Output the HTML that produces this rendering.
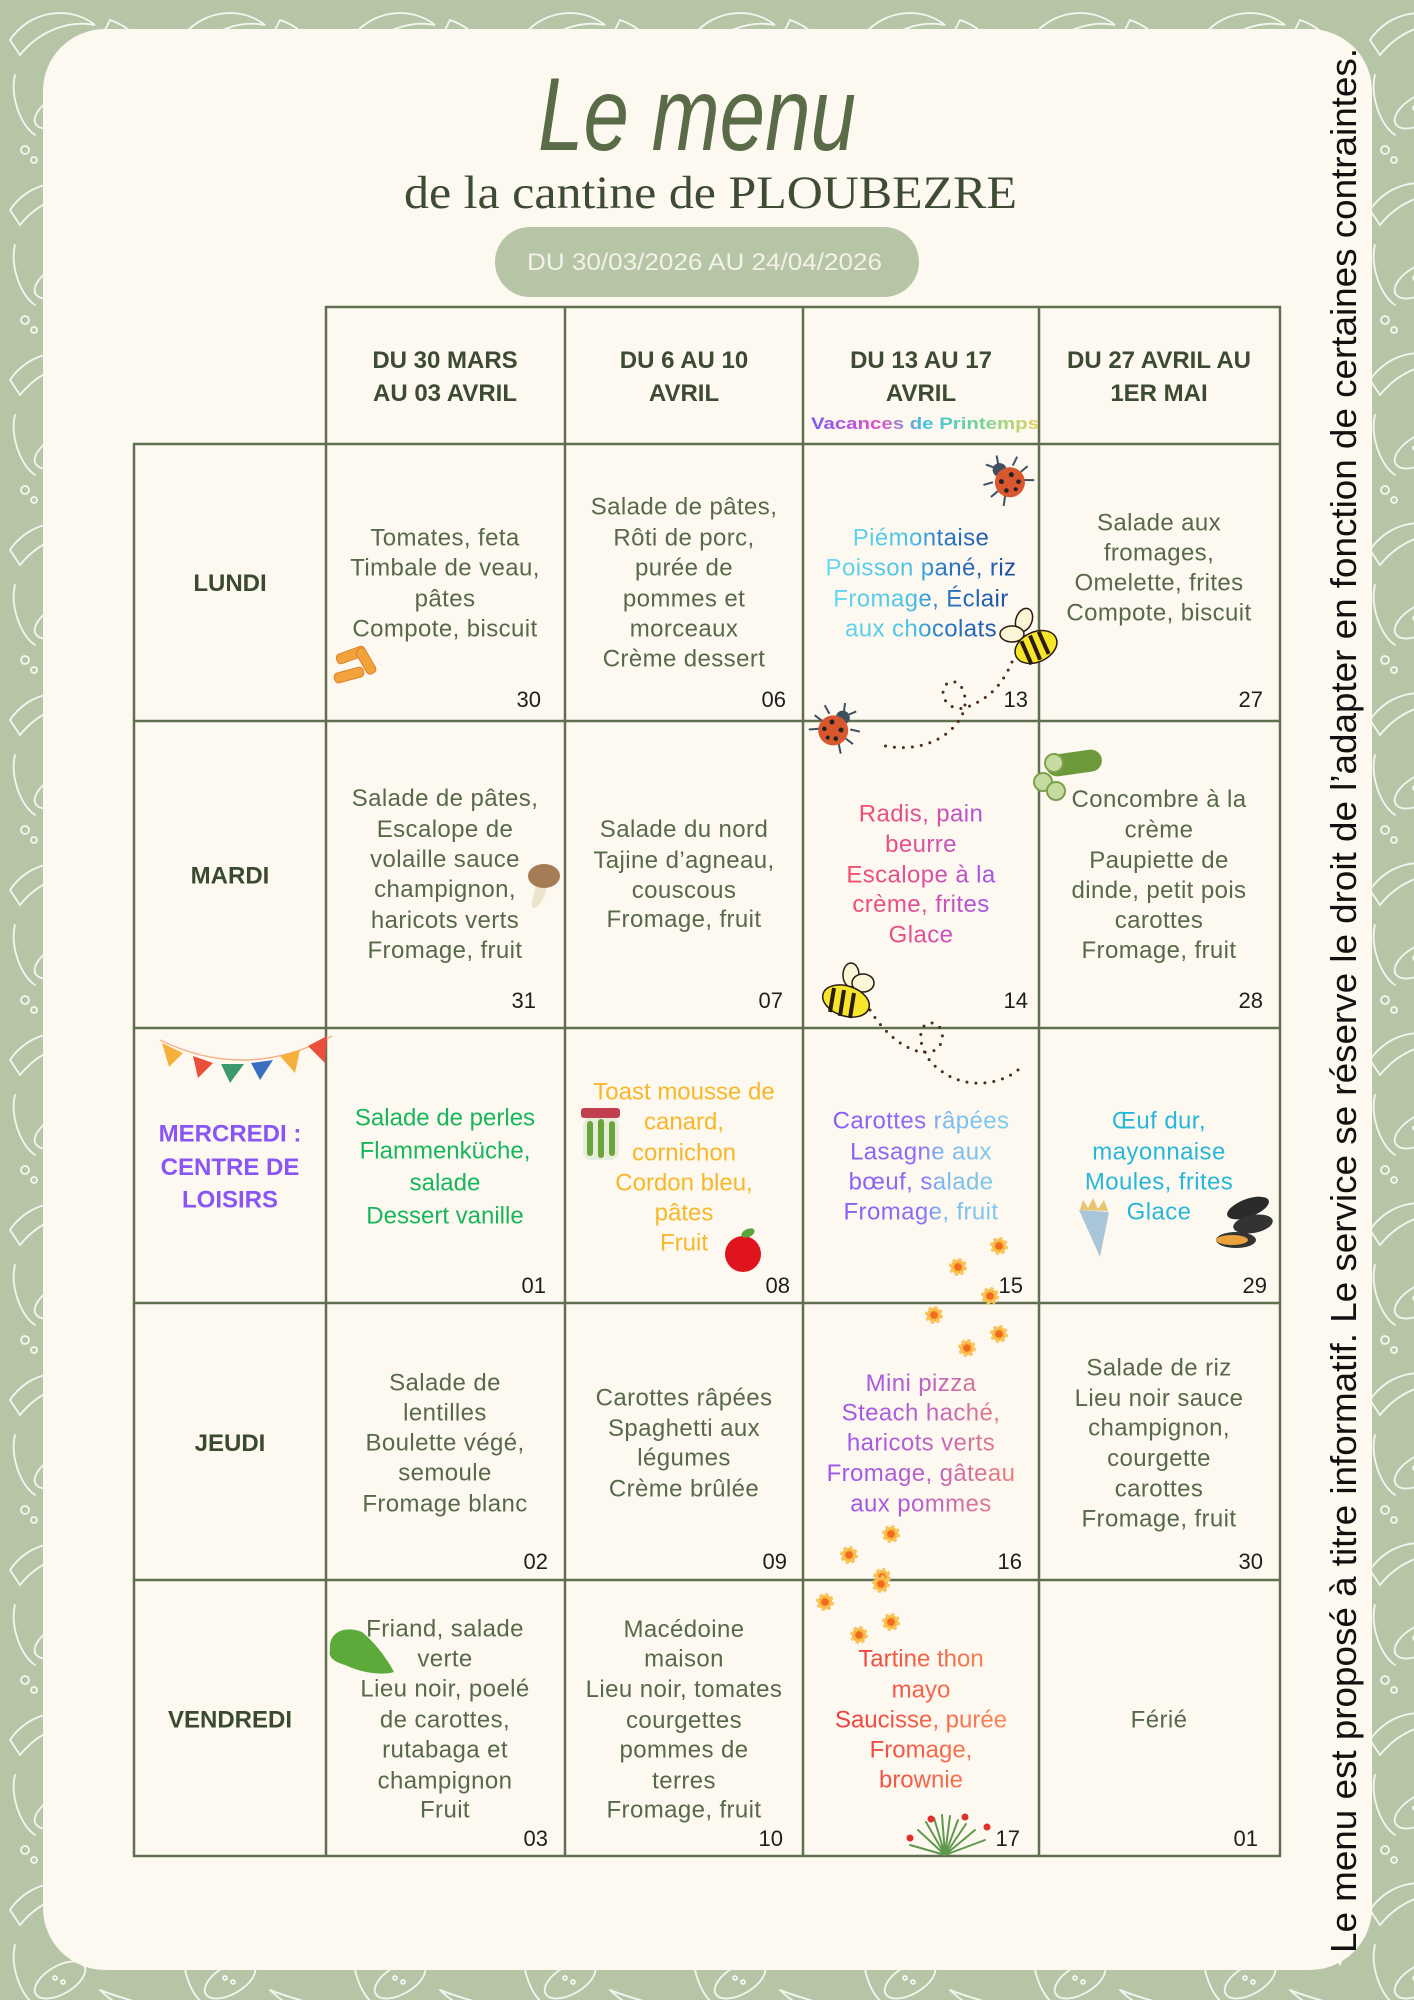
<!DOCTYPE html>
<html><head><meta charset="utf-8">
<style>
html,body{margin:0;padding:0;background:#b6c5a6;}
svg{display:block;}
.t{font-family:"Liberation Sans",sans-serif;font-size:24px;letter-spacing:0.4px;fill:#58694a;text-anchor:middle;}
.n{font-family:"Liberation Sans",sans-serif;font-size:22px;fill:#1e1e1e;text-anchor:end;}
.h{font-family:"Liberation Sans",sans-serif;font-weight:bold;font-size:24px;fill:#3c4b31;text-anchor:middle;}
.d{font-family:"Liberation Sans",sans-serif;font-weight:bold;font-size:24px;fill:#3a4a2f;text-anchor:middle;}
</style></head><body>
<svg width="1414" height="2000" viewBox="0 0 1414 2000" xmlns="http://www.w3.org/2000/svg">
<defs>
<pattern id="bg" width="170" height="170" patternUnits="userSpaceOnUse">
 <g fill="none" stroke="#ffffff" stroke-width="1.8" stroke-linecap="round" opacity="0.85">
  <path d="M10 40 C30 10 70 5 95 25 C70 20 40 30 20 55 Z"/>
  <path d="M110 20 C140 30 160 60 150 95 C145 70 130 45 105 30 Z"/>
  <ellipse cx="60" cy="110" rx="28" ry="14" transform="rotate(-30 60 110)"/>
  <circle cx="55" cy="108" r="2"/><circle cx="63" cy="112" r="2"/>
  <path d="M100 120 C120 140 150 150 165 140 M100 120 C125 130 150 135 165 140"/>
  <circle cx="140" cy="60" r="4"/><circle cx="150" cy="70" r="3"/>
  <circle cx="25" cy="150" r="4"/><circle cx="34" cy="160" r="3"/>
  <path d="M15 75 C10 95 20 125 35 135"/>
 </g>
</pattern>
<linearGradient id="rb" gradientUnits="userSpaceOnUse" x1="811" y1="0" x2="1039" y2="0">
 <stop offset="0" stop-color="#7b5cf6"/><stop offset="0.3" stop-color="#e052c8"/><stop offset="0.5" stop-color="#3cc6e0"/><stop offset="0.78" stop-color="#7ed68a"/><stop offset="1" stop-color="#e8d060"/>
</linearGradient>
<linearGradient id="gL" gradientUnits="userSpaceOnUse" x1="830" y1="0" x2="1012" y2="0">
 <stop offset="0" stop-color="#66d8ef"/><stop offset="0.45" stop-color="#4cc2e4"/><stop offset="0.6" stop-color="#2b7cc9"/><stop offset="1" stop-color="#1e4f9f"/>
</linearGradient>
<linearGradient id="gM" gradientUnits="userSpaceOnUse" x1="850" y1="0" x2="995" y2="0">
 <stop offset="0" stop-color="#f2506a"/><stop offset="0.5" stop-color="#e0509a"/><stop offset="1" stop-color="#a055f0"/>
</linearGradient>
<linearGradient id="gW" gradientUnits="userSpaceOnUse" x1="835" y1="0" x2="1010" y2="0">
 <stop offset="0" stop-color="#8b5cf6"/><stop offset="0.5" stop-color="#8e6ef4"/><stop offset="0.6" stop-color="#7cb8ee"/><stop offset="1" stop-color="#7cd0ee"/>
</linearGradient>
<linearGradient id="gJ" gradientUnits="userSpaceOnUse" x1="835" y1="0" x2="1010" y2="0">
 <stop offset="0" stop-color="#9b55f2"/><stop offset="0.45" stop-color="#b560d0"/><stop offset="1" stop-color="#ea7f7a"/>
</linearGradient>
<linearGradient id="gV" gradientUnits="userSpaceOnUse" x1="835" y1="0" x2="1010" y2="0">
 <stop offset="0" stop-color="#ef3b3b"/><stop offset="1" stop-color="#fa8a58"/>
</linearGradient>
<g id="fl">
 <circle r="7" fill="#f9b640" stroke="#f9c45a" stroke-width="4" stroke-dasharray="3 2.5"/>
 <circle r="3.8" fill="#f06b1d"/>
</g>
</defs>

<rect width="1414" height="2000" fill="#b6c5a6"/>
<rect width="1414" height="2000" fill="url(#bg)"/>
<rect x="43" y="29" width="1329" height="1941" rx="62" fill="#fdf8f0"/>

<!-- Title -->
<text x="538" y="150" font-family="Liberation Sans, sans-serif" font-style="italic" font-size="104" fill="#5a6b48" textLength="318" lengthAdjust="spacingAndGlyphs">Le menu</text>
<text x="404" y="208" font-family="Liberation Serif, serif" font-size="47" fill="#3e4c34" textLength="613" lengthAdjust="spacingAndGlyphs">de la cantine de PLOUBEZRE</text>
<rect x="495" y="227" width="424" height="70" rx="35" fill="#b6c5a6"/>
<text x="527" y="270" font-family="Liberation Sans, sans-serif" font-size="24" fill="#f4f2e8" textLength="355" lengthAdjust="spacingAndGlyphs">DU 30/03/2026 AU 24/04/2026</text>

<!-- vertical note -->
<text transform="translate(1356,1953) rotate(-90)" font-family="Liberation Sans, sans-serif" font-size="36" fill="#111111" textLength="1905" lengthAdjust="spacingAndGlyphs">Le menu est proposé à titre informatif. Le service se réserve le droit de l’adapter en fonction de certaines contraintes.</text>

<!-- table lines -->
<g stroke="#5f6f50" stroke-width="2.5" fill="none">
 <line x1="134" y1="444" x2="134" y2="1857"/>
 <line x1="326" y1="306" x2="326" y2="1857"/>
 <line x1="565" y1="306" x2="565" y2="1857"/>
 <line x1="803" y1="306" x2="803" y2="1857"/>
 <line x1="1039" y1="306" x2="1039" y2="1857"/>
 <line x1="1280" y1="306" x2="1280" y2="1857"/>
 <line x1="325" y1="307" x2="1281" y2="307"/>
 <line x1="133" y1="444" x2="1281" y2="444"/>
 <line x1="133" y1="721" x2="1281" y2="721"/>
 <line x1="133" y1="1028" x2="1281" y2="1028"/>
 <line x1="133" y1="1303" x2="1281" y2="1303"/>
 <line x1="133" y1="1580" x2="1281" y2="1580"/>
 <line x1="133" y1="1856" x2="1281" y2="1856"/>
</g>

<!-- header -->
<text class="h" x="445" y="368">DU 30 MARS</text><text class="h" x="445" y="401">AU 03 AVRIL</text>
<text class="h" x="684" y="368">DU 6 AU 10</text><text class="h" x="684" y="401">AVRIL</text>
<text class="h" x="921" y="368">DU 13 AU 17</text><text class="h" x="921" y="401">AVRIL</text>
<text class="h" x="1159" y="368">DU 27 AVRIL AU</text><text class="h" x="1159" y="401">1ER MAI</text>
<text x="811" y="429" font-family="Liberation Sans, sans-serif" font-weight="bold" font-size="17" fill="url(#rb)" textLength="228" lengthAdjust="spacingAndGlyphs">Vacances de Printemps</text>

<!-- day labels -->
<text class="d" x="230" y="591">LUNDI</text>
<text class="d" x="230" y="883.5">MARDI</text>
<text class="d" x="230" y="1141.5" style="fill:#8a55f5">MERCREDI :</text>
<text class="d" x="230" y="1175" style="fill:#8a55f5">CENTRE DE</text>
<text class="d" x="230" y="1207.5" style="fill:#8a55f5">LOISIRS</text>
<text class="d" x="230" y="1451">JEUDI</text>
<text class="d" x="230" y="1727.5">VENDREDI</text>

<!-- LUNDI -->
<text class="t" x="445" y="545.5">Tomates, feta</text>
<text class="t" x="445" y="575.5">Timbale de veau,</text>
<text class="t" x="445" y="606.5">pâtes</text>
<text class="t" x="445" y="636.5">Compote, biscuit</text>

<text class="t" x="684" y="514.5">Salade de pâtes,</text>
<text class="t" x="684" y="545.5">Rôti de porc,</text>
<text class="t" x="684" y="575.5">purée de</text>
<text class="t" x="684" y="606.5">pommes et</text>
<text class="t" x="684" y="636.5">morceaux</text>
<text class="t" x="684" y="666.5">Crème dessert</text>

<text class="t" x="921" y="545.5" style="fill:url(#gL)">Piémontaise</text>
<text class="t" x="921" y="575.5" style="fill:url(#gL)">Poisson pané, riz</text>
<text class="t" x="921" y="606.5" style="fill:url(#gL)">Fromage, Éclair</text>
<text class="t" x="921" y="636.5" style="fill:url(#gL)">aux chocolats</text>

<text class="t" x="1159" y="530.5">Salade aux</text>
<text class="t" x="1159" y="560.5">fromages,</text>
<text class="t" x="1159" y="590.5">Omelette, frites</text>
<text class="t" x="1159" y="620.5">Compote, biscuit</text>

<!-- MARDI -->
<text class="t" x="445" y="806">Salade de pâtes,</text>
<text class="t" x="445" y="837">Escalope de</text>
<text class="t" x="445" y="867">volaille sauce</text>
<text class="t" x="445" y="897">champignon,</text>
<text class="t" x="445" y="928">haricots verts</text>
<text class="t" x="445" y="958">Fromage, fruit</text>

<text class="t" x="684" y="837">Salade du nord</text>
<text class="t" x="684" y="868">Tajine d’agneau,</text>
<text class="t" x="684" y="898">couscous</text>
<text class="t" x="684" y="927">Fromage, fruit</text>

<text class="t" x="921" y="821.5" style="fill:url(#gM)">Radis, pain</text>
<text class="t" x="921" y="852" style="fill:url(#gM)">beurre</text>
<text class="t" x="921" y="882.5" style="fill:url(#gM)">Escalope à la</text>
<text class="t" x="921" y="912" style="fill:url(#gM)">crème, frites</text>
<text class="t" x="921" y="942.5" style="fill:url(#gM)">Glace</text>

<text class="t" x="1159" y="807">Concombre à la</text>
<text class="t" x="1159" y="837.5">crème</text>
<text class="t" x="1159" y="868">Paupiette de</text>
<text class="t" x="1159" y="898">dinde, petit pois</text>
<text class="t" x="1159" y="928">carottes</text>
<text class="t" x="1159" y="958">Fromage, fruit</text>

<!-- MERCREDI -->
<text class="t" x="445" y="1125.5" style="fill:#17b65c;letter-spacing:0">Salade de perles</text>
<text class="t" x="445" y="1158.5" style="fill:#17b65c;letter-spacing:0">Flammenküche,</text>
<text class="t" x="445" y="1190.5" style="fill:#17b65c;letter-spacing:0">salade</text>
<text class="t" x="445" y="1223.5" style="fill:#17b65c;letter-spacing:0">Dessert vanille</text>

<text class="t" x="684" y="1099.5" style="fill:#f7b72a;letter-spacing:0">Toast mousse de</text>
<text class="t" x="684" y="1129.5" style="fill:#f7b72a;letter-spacing:0">canard,</text>
<text class="t" x="684" y="1160.5" style="fill:#f7b72a;letter-spacing:0">cornichon</text>
<text class="t" x="684" y="1190.5" style="fill:#f7b72a;letter-spacing:0">Cordon bleu,</text>
<text class="t" x="684" y="1220.5" style="fill:#f7b72a;letter-spacing:0">pâtes</text>
<text class="t" x="684" y="1250.5" style="fill:#f7b72a;letter-spacing:0">Fruit</text>

<text class="t" x="921" y="1128.5" style="fill:url(#gW)">Carottes râpées</text>
<text class="t" x="921" y="1159.5" style="fill:url(#gW)">Lasagne aux</text>
<text class="t" x="921" y="1189.5" style="fill:url(#gW)">bœuf, salade</text>
<text class="t" x="921" y="1219.5" style="fill:url(#gW)">Fromage, fruit</text>

<text class="t" x="1159" y="1128.5" style="fill:#26b7d9">Œuf dur,</text>
<text class="t" x="1159" y="1159.5" style="fill:#26b7d9">mayonnaise</text>
<text class="t" x="1159" y="1189.5" style="fill:#26b7d9">Moules, frites</text>
<text class="t" x="1159" y="1219.5" style="fill:#26b7d9">Glace</text>

<!-- JEUDI -->
<text class="t" x="445" y="1390.5">Salade de</text>
<text class="t" x="445" y="1420.5">lentilles</text>
<text class="t" x="445" y="1450.5">Boulette végé,</text>
<text class="t" x="445" y="1480.5">semoule</text>
<text class="t" x="445" y="1511.5">Fromage blanc</text>

<text class="t" x="684" y="1405.5">Carottes râpées</text>
<text class="t" x="684" y="1436">Spaghetti aux</text>
<text class="t" x="684" y="1465.5">légumes</text>
<text class="t" x="684" y="1496.5">Crème brûlée</text>

<text class="t" x="921" y="1391" style="fill:url(#gJ)">Mini pizza</text>
<text class="t" x="921" y="1420.5" style="fill:url(#gJ)">Steach haché,</text>
<text class="t" x="921" y="1450.5" style="fill:url(#gJ)">haricots verts</text>
<text class="t" x="921" y="1481" style="fill:url(#gJ)">Fromage, gâteau</text>
<text class="t" x="921" y="1511.5" style="fill:url(#gJ)">aux pommes</text>

<text class="t" x="1159" y="1375.5">Salade de riz</text>
<text class="t" x="1159" y="1406">Lieu noir sauce</text>
<text class="t" x="1159" y="1435.5">champignon,</text>
<text class="t" x="1159" y="1466">courgette</text>
<text class="t" x="1159" y="1496.5">carottes</text>
<text class="t" x="1159" y="1526.5">Fromage, fruit</text>

<!-- VENDREDI -->
<text class="t" x="445" y="1636.5">Friand, salade</text>
<text class="t" x="445" y="1666.5">verte</text>
<text class="t" x="445" y="1696.5">Lieu noir, poelé</text>
<text class="t" x="445" y="1727.5">de carottes,</text>
<text class="t" x="445" y="1757.5">rutabaga et</text>
<text class="t" x="445" y="1788.5">champignon</text>
<text class="t" x="445" y="1817.5">Fruit</text>

<text class="t" x="684" y="1637">Macédoine</text>
<text class="t" x="684" y="1666.5">maison</text>
<text class="t" x="684" y="1697">Lieu noir, tomates</text>
<text class="t" x="684" y="1728">courgettes</text>
<text class="t" x="684" y="1757.5">pommes de</text>
<text class="t" x="684" y="1788.5">terres</text>
<text class="t" x="684" y="1817.5">Fromage, fruit</text>

<text class="t" x="921" y="1666.5" style="fill:url(#gV);letter-spacing:0">Tartine thon</text>
<text class="t" x="921" y="1697.5" style="fill:url(#gV);letter-spacing:0">mayo</text>
<text class="t" x="921" y="1727.5" style="fill:url(#gV);letter-spacing:0">Saucisse, purée</text>
<text class="t" x="921" y="1757.5" style="fill:url(#gV);letter-spacing:0">Fromage,</text>
<text class="t" x="921" y="1787.5" style="fill:url(#gV);letter-spacing:0">brownie</text>

<text class="t" x="1159" y="1727.5">Férié</text>

<!-- day numbers -->
<text class="n" x="541" y="707">30</text><text class="n" x="786" y="707">06</text><text class="n" x="1028" y="707">13</text><text class="n" x="1263" y="707">27</text>
<text class="n" x="536" y="1008">31</text><text class="n" x="783" y="1008">07</text><text class="n" x="1028" y="1008">14</text><text class="n" x="1263" y="1008">28</text>
<text class="n" x="546" y="1293">01</text><text class="n" x="790" y="1293">08</text><text class="n" x="1023" y="1293">15</text><text class="n" x="1267" y="1293">29</text>
<text class="n" x="548" y="1569">02</text><text class="n" x="787" y="1569">09</text><text class="n" x="1022" y="1569">16</text><text class="n" x="1263" y="1569">30</text>
<text class="n" x="548" y="1846">03</text><text class="n" x="783" y="1846">10</text><text class="n" x="1020" y="1846">17</text><text class="n" x="1258" y="1846">01</text>

<!-- decorations -->
<g fill="#f2a23a" stroke="#d9822a" stroke-width="1">
 <rect x="336" y="650" width="30" height="10" rx="4" transform="rotate(-20 351 655)"/>
 <rect x="352" y="656" width="28" height="10" rx="4" transform="rotate(60 366 661)"/>
 <rect x="334" y="670" width="30" height="10" rx="4" transform="rotate(-15 349 675)"/>
</g>
<path d="M536 884 C534 896 530 904 533 908 C538 908 546 898 547 884 Z" fill="#ece3cc"/>
<ellipse cx="544" cy="876" rx="16" ry="12" fill="#a67c55"/>
<g transform="translate(1008,480) rotate(-40)">
 <path d="M-13 -8 L-22 -12 M-15 2 L-24 2 M-12 10 L-20 17 M13 -8 L22 -12 M15 2 L24 2 M12 10 L20 17 M-3 -19 L-7 -26 M3 -19 L7 -26" stroke="#3f5160" stroke-width="2" fill="none"/>
 <circle cx="0" cy="-13" r="7" fill="#3f5160"/>
 <ellipse cx="0" cy="3" rx="15" ry="15" fill="#d9572f"/>
 <g fill="#222"><circle cx="-6" cy="-3" r="2.5"/><circle cx="6" cy="-2" r="2.5"/><circle cx="-8" cy="7" r="2.3"/><circle cx="7" cy="8" r="2.3"/><circle cx="0" cy="12" r="2"/></g>
</g>
<g transform="translate(835,728) rotate(37)">
 <path d="M-13 -8 L-22 -12 M-15 2 L-24 2 M-12 10 L-20 17 M13 -8 L22 -12 M15 2 L24 2 M12 10 L20 17 M-3 -19 L-7 -26 M3 -19 L7 -26" stroke="#3f5160" stroke-width="2" fill="none"/>
 <circle cx="0" cy="-13" r="7" fill="#3f5160"/>
 <ellipse cx="0" cy="3" rx="15" ry="15" fill="#d9572f"/>
 <g fill="#222"><circle cx="-6" cy="-3" r="2.5"/><circle cx="6" cy="-2" r="2.5"/><circle cx="-8" cy="7" r="2.3"/><circle cx="7" cy="8" r="2.3"/><circle cx="0" cy="12" r="2"/></g>
</g>
<g fill="none" stroke="#4a2b1c" stroke-width="3" stroke-linecap="round" stroke-dasharray="0 9">
 <path d="M1012 662 C1000 690 985 700 965 708 C945 712 937 690 948 683 C962 676 970 700 962 715 C950 740 915 755 877 744"/>
 <path d="M870 1010 C885 1035 910 1055 930 1052 C948 1048 945 1022 930 1023 C915 1025 918 1055 940 1070 C965 1090 1000 1085 1018 1070"/>
</g>
<g stroke="#2a1a10" stroke-width="1.5">
 <ellipse cx="1024" cy="620" rx="8" ry="12" fill="#fbf6d6" transform="rotate(20 1024 620)"/>
 <ellipse cx="1012" cy="634" rx="12" ry="8" fill="#fbf6d6"/>
 <ellipse cx="1036" cy="647" rx="22" ry="15" fill="#f7e52a" transform="rotate(-25 1036 647)"/>
 <path d="M1022 640 L1030 664 M1031 635 L1039 660 M1040 632 L1048 655" stroke-width="4" transform="rotate(-5 1036 647)"/>
</g>
<g stroke="#2a1a10" stroke-width="1.5">
 <ellipse cx="851" cy="975" rx="8" ry="12" fill="#fbf6d6"/>
 <ellipse cx="863" cy="983" rx="11" ry="9" fill="#fbf6d6"/>
 <ellipse cx="846" cy="1001" rx="24" ry="15" fill="#f7e52a" transform="rotate(18 846 1001)"/>
 <path d="M834 988 L830 1012 M844 990 L840 1016 M854 993 L850 1018" stroke-width="4"/>
</g>
<rect x="1046" y="752" width="56" height="22" rx="11" fill="#6c9a3a" transform="rotate(-8 1074 763)"/>
<g fill="#c5dba0" stroke="#7aa24a" stroke-width="2">
 <circle cx="1054" cy="763" r="9"/><circle cx="1043" cy="782" r="9"/><circle cx="1056" cy="791" r="9"/>
</g>
<path d="M160 1040 Q246 1082 332 1036" stroke="#f3b28a" stroke-width="1.5" fill="none"/>
<polygon points="162,1043 183,1053 169,1067" fill="#f6b13c"/>
<polygon points="193,1056 213,1063 198,1078" fill="#e94f3a"/>
<polygon points="221,1064 244,1064 230,1083" fill="#3a9a6e"/>
<polygon points="251,1063 273,1060 260,1080" fill="#3b6fc2"/>
<polygon points="280,1056 300,1050 295,1073" fill="#f6b13c"/>
<polygon points="308,1046 327,1036 325,1063" fill="#e94f3a"/>
<rect x="583" y="1117" width="36" height="43" rx="8" fill="#e6eddb"/>
<rect x="581" y="1108" width="39" height="10" rx="3" fill="#c0404f"/>
<g stroke="#6aa43a" stroke-width="6" stroke-linecap="round"><line x1="590" y1="1124" x2="590" y2="1153"/><line x1="601" y1="1122" x2="601" y2="1155"/><line x1="612" y1="1124" x2="612" y2="1153"/></g>
<circle cx="743" cy="1254" r="18" fill="#e0141e"/>
<ellipse cx="748" cy="1233" rx="7" ry="4" fill="#5aa33a" transform="rotate(-25 748 1233)"/>
<path d="M1079 1210 L1109 1212 L1100 1257 Z" fill="#a9c6d8"/>
<path d="M1080 1210 L1083 1200 L1088 1208 L1093 1198 L1098 1209 L1104 1200 L1108 1211 Z" fill="#e8c470"/>
<ellipse cx="1248" cy="1208" rx="22" ry="9" fill="#2b2b2b" transform="rotate(-20 1248 1208)"/>
<ellipse cx="1253" cy="1224" rx="20" ry="9" fill="#333" transform="rotate(-10 1253 1224)"/>
<ellipse cx="1236" cy="1240" rx="20" ry="8" fill="#333"/>
<ellipse cx="1232" cy="1240" rx="16" ry="5" fill="#e9a23b"/>
<path d="M330 1650 C328 1632 345 1625 362 1632 C372 1640 385 1655 394 1672 C380 1676 360 1672 345 1665 C335 1662 328 1658 330 1650 Z" fill="#5caa3a"/>
<use href="#fl" x="999" y="1246"/><use href="#fl" x="958" y="1267"/><use href="#fl" x="990" y="1296"/>
<use href="#fl" x="934" y="1315"/><use href="#fl" x="999" y="1334"/><use href="#fl" x="967" y="1348"/>
<use href="#fl" x="891" y="1534"/><use href="#fl" x="849" y="1555"/><use href="#fl" x="882" y="1577"/>
<use href="#fl" x="881" y="1584"/><use href="#fl" x="825" y="1602"/><use href="#fl" x="891" y="1622"/><use href="#fl" x="859" y="1635"/>
<g stroke="#5e9a4c" stroke-width="2" fill="none" stroke-linecap="round">
 <path d="M945 1855 L918 1830 M945 1855 L926 1822 M945 1855 L934 1818 M945 1855 L942 1815 M945 1855 L950 1816 M945 1855 L958 1820 M945 1855 L966 1824 M945 1855 L975 1830 M945 1855 L985 1840 M945 1855 L910 1845"/>
</g>
<g fill="#e0302a"><circle cx="910" cy="1838" r="3.5"/><circle cx="931" cy="1819" r="3.5"/><circle cx="965" cy="1817" r="3.5"/><circle cx="987" cy="1827" r="3.5"/></g>
</svg>
</body></html>
